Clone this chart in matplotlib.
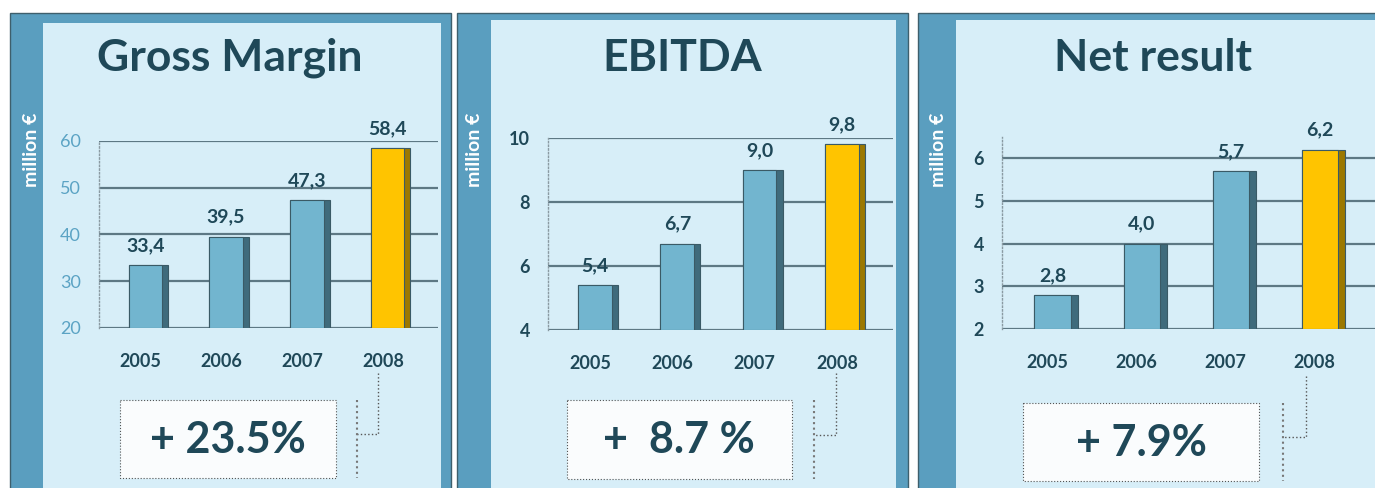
import matplotlib
matplotlib.use('Agg')
import matplotlib.pyplot as plt
from matplotlib.patches import Rectangle

plt.rcParams['font.family'] = ['Lato', 'DejaVu Sans']

# data
years = ['2005', '2006', '2007', '2008']
gross_margin = [33.4, 39.5, 47.3, 58.4]
ebitda = [5.4, 6.7, 9.0, 9.8]
net_result = [2.8, 4.0, 5.7, 6.2]
titles = ['Gross Margin', 'EBITDA', 'Net result']
growth = ['+ 23.5%', '+  8.7 %', '+ 7.9%']
yticks = [[20, 30, 40, 50, 60], [4, 6, 8, 10], [2, 3, 4, 5, 6]]
ylims = [(20, 60), (4, 10), (2, 6.5)]

W, H = 1375, 488
FRAME = '#5A9EBF'
INNER = '#D7EEF8'
DARK = '#1F4858'
BLUE_FACE = '#72B5CF'
BLUE_SIDE = '#3F6B7C'
YEL_FACE = '#FFC400'
YEL_SIDE = '#9C7800'
GRID = '#5D7884'

fig = plt.figure(figsize=(W / 100, H / 100), dpi=100)
bg = fig.add_axes([0, 0, 1, 1])
bg.set_xlim(0, W)
bg.set_ylim(H, 0)
bg.axis('off')

# panel layout in pixels
panels = [
    dict(outer=(10, 13, 451), inner=(43, 23, 441), ax=(99, 141, 438, 328),
         title_x=230, label_x=32, box=(120, 400, 336, 478), box_text=(228, 440),
         conn=(378, 373, 357, 434), tick_color='#5BA3C4', tick_bold=False),
    dict(outer=(457, 13, 908), inner=(491, 20, 896), ax=(548, 138, 893, 330),
         title_x=682, label_x=475, box=(567, 400, 792, 479), box_text=(679, 440),
         conn=(836, 373, 814, 435), tick_color=DARK, tick_bold=True),
    dict(outer=(918, 13, 1400), inner=(956, 20, 1390), ax=(1002, 137, 1375, 329),
         title_x=1153, label_x=939, box=(1023, 403, 1259, 481), box_text=(1141, 443),
         conn=(1306, 376, 1283, 437), tick_color=DARK, tick_bold=True),
]
series = [gross_margin, ebitda, net_result]

face_w = 0.41
side_w = 0.075

for i, p in enumerate(panels):
    x0, y0, x1 = p['outer']
    bg.add_patch(Rectangle((x0, y0), x1 - x0, H - y0 + 5, facecolor=FRAME,
                           edgecolor='#3E5F6C', lw=1))
    ix0, iy0, ix1 = p['inner']
    bg.add_patch(Rectangle((ix0, iy0), ix1 - ix0, H - iy0 + 5, facecolor=INNER,
                           edgecolor='none'))
    bg.text(p['title_x'], 58, titles[i], fontsize=32, fontweight='bold',
            color=DARK, ha='center', va='center')
    bg.text(p['label_x'], 150, 'million €', fontsize=14, fontweight='bold',
            color='white', rotation=90, ha='center', va='center')
    bx0, by0, bx1, by1 = p['box']
    bg.add_patch(Rectangle((bx0, by0), bx1 - bx0, by1 - by0, facecolor='#FAFCFD',
                           edgecolor='#555555', lw=0.8, linestyle=':'))
    bg.text(p['box_text'][0], p['box_text'][1], growth[i], fontsize=31,
            fontweight='bold', color=DARK, ha='center', va='center')
    cx, cy0, vx, cy1 = p['conn']
    bg.plot([cx, cx, vx], [cy0, cy1, cy1], color='#555555', lw=1, ls=':')
    bg.plot([vx, vx], [by0, by1], color='#777777', lw=1.5, ls=':')

    # chart axes
    ax0, ay0, ax1, ay1 = p['ax']
    ax = fig.add_axes([ax0 / W, 1 - ay1 / H, (ax1 - ax0) / W, (ay1 - ay0) / H])
    ax.patch.set_alpha(0)
    vals = series[i]
    xs = list(range(len(vals)))
    faces = [BLUE_FACE] * 3 + [YEL_FACE]
    sides = [BLUE_SIDE] * 3 + [YEL_SIDE]
    ax.bar([x + side_w / 2 for x in xs], [v - ylims[i][0] for v in vals],
           bottom=ylims[i][0], width=face_w + side_w, color=sides,
           edgecolor='#3A5A66', lw=0.8, zorder=3)
    ax.bar(xs, [v - ylims[i][0] for v in vals], bottom=ylims[i][0], width=face_w,
           color=faces, edgecolor='#3A5A66', lw=0.8, zorder=4)
    for x, v in zip(xs, vals):
        ax.annotate(f'{v:.1f}'.replace('.', ','), (x, v), xytext=(0, 8),
                    textcoords='offset points', ha='center', va='bottom',
                    fontsize=14, fontweight='bold', color=DARK, zorder=5,
                    annotation_clip=False)
    ax.set_xlim(-0.57, 3.62)
    ax.set_ylim(*ylims[i])
    ax.set_yticks(yticks[i])
    ax.set_yticklabels([str(t) for t in yticks[i]], fontsize=13,
                       color=p['tick_color'],
                       fontweight='bold' if p['tick_bold'] else 'normal')
    ax.set_xticks([x - 0.06 for x in xs])
    ax.set_xticklabels(years, fontsize=13, fontweight='bold', color=DARK)
    ax.tick_params(axis='both', length=0)
    ax.tick_params(axis='y', pad=13)
    ax.tick_params(axis='x', pad=18)
    for t in yticks[i]:
        ax.axhline(t, color=GRID, lw=1.6, zorder=1)
    for s in ['top', 'right', 'bottom']:
        ax.spines[s].set_visible(False)
    ax.spines['left'].set_linestyle(':')
    ax.spines['left'].set_color('#8A9AA2')
    ax.spines['left'].set_linewidth(1)

fig.savefig('out.png', dpi=100)
